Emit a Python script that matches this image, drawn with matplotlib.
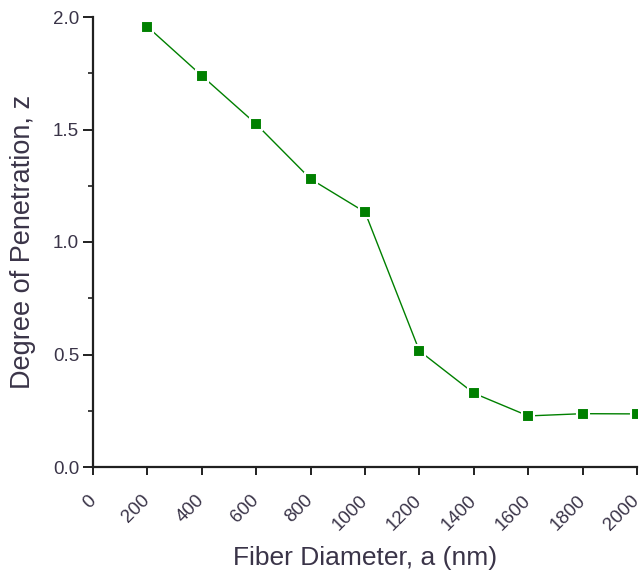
import numpy as np
import matplotlib
matplotlib.use("Agg")
import matplotlib.pyplot as plt
import matplotlib.transforms as mtransforms
from matplotlib.ticker import MultipleLocator

# ------------------------------- DATA ------------------------------- #
diameter = [200, 400, 600, 800, 1000, 1200, 1400, 1600, 1800, 2000]
penetration = [1.957, 1.739, 1.524, 1.280, 1.133, 0.516, 0.328, 0.227, 0.237, 0.236]

x_ticks = list(range(0, 2001, 200))
y_ticks = [0.0, 0.5, 1.0, 1.5, 2.0]

# ------------------------------- PLOT ------------------------------- #
plt.rcParams['font.family'] = ['Liberation Sans', 'DejaVu Sans']

fig = plt.figure(figsize=(6.42, 5.71), dpi=100)
ax = fig.add_axes((93 / 642, 104 / 571, 544 / 642, 450 / 571))

# line with a small white gap around each marker
ax.plot(diameter, penetration, color='#008000', linewidth=1.0,
        marker='s', markersize=9, markerfacecolor='#008000',
        markeredgecolor='white', markeredgewidth=1.5)

ax.set_xlim(0, 2000)
ax.set_ylim(0, 2.0)
ax.set_xticks(x_ticks)
ax.set_yticks(y_ticks)
ax.set_yticklabels([f"{v:.1f}" for v in y_ticks])
ax.yaxis.set_minor_locator(MultipleLocator(0.25))

for side in ('top', 'right'):
    ax.spines[side].set_visible(False)
for side in ('left', 'bottom'):
    ax.spines[side].set_linewidth(1.6)
    ax.spines[side].set_color('#202020')
    ax.spines[side].set_zorder(0.5)

ax.tick_params(axis='y', which='major', direction='out', length=7, width=1.4,
               colors='#202020', labelcolor='#3a3448', labelsize=13.5, pad=3)
ax.tick_params(axis='x', which='major', direction='out', length=6, width=1.4,
               colors='#202020', labelcolor='#3a3448', labelsize=13.5, pad=12)
ax.tick_params(axis='y', which='minor', direction='out', length=3.5, width=1.2,
               colors='#202020')

# rotated x labels, nudged a little left like the original
shift = mtransforms.ScaledTranslation(-6 / 100, 0, fig.dpi_scale_trans)
for lbl in ax.get_xticklabels():
    lbl.set_rotation(45)
    lbl.set_ha('right')
    lbl.set_va('top')
    lbl.set_rotation_mode('anchor')
    lbl.set_transform(lbl.get_transform() + shift)

ax.set_xlabel('Fiber Diameter, a (nm)', fontsize=19, color='#3a3448', labelpad=9)
ax.set_ylabel('Degree of Penetration, z', fontsize=19.5, color='#3a3448', labelpad=12)

fig.savefig('out.png', dpi=100)
plt.close(fig)
